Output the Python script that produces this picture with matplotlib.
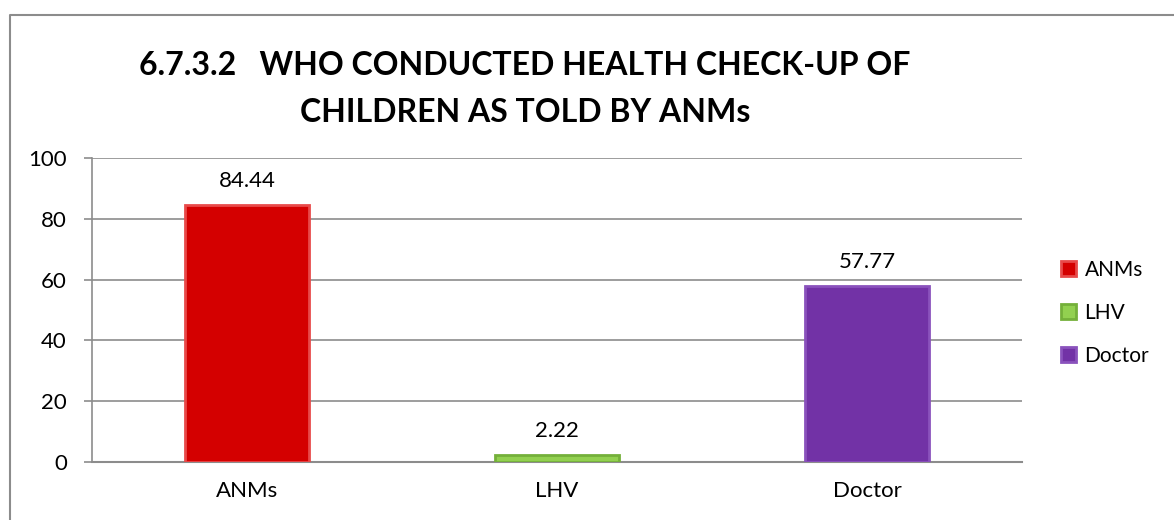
import matplotlib.pyplot as plt
from matplotlib.lines import Line2D

categories = ["ANMs", "LHV", "Doctor"]
values = [84.44, 2.22, 57.77]
colors = ["#d40000", "#92d050", "#7232a6"]
edges = ["#e84a4a", "#74b03a", "#8a52bc"]
yticks = [0, 20, 40, 60, 80, 100]

plt.rcParams["font.family"] = ["Lato", "DejaVu Sans"]

W, H = 1174, 520
fig = plt.figure(figsize=(W / 100, H / 100), dpi=100)
# chart border (left and top edges are visible)
fig.add_artist(Line2D([10 / W, 10 / W, 1.0], [0.0, 1 - 15 / H, 1 - 15 / H],
                      transform=fig.transFigure, color="#8c8c8c", linewidth=1.5))

ax = fig.add_axes([92 / W, 1 - 462 / H, 930 / W, 304 / H])
x = list(range(len(categories)))
bars = ax.bar(x, values, width=0.4, color=colors, edgecolor=edges, linewidth=2,
              zorder=3)
for xi, v in zip(x, values):
    ax.annotate(f"{v:.2f}", (xi, v), xytext=(0, 13.3), textcoords="offset points",
                ha="center", va="baseline", fontsize=16)

ax.set_xlim(-0.5, 2.5)
ax.set_ylim(0, 100)
ax.set_yticks(yticks)
ax.set_xticks(x)
ax.set_xticklabels(categories, fontsize=16)
ax.tick_params(axis="y", labelsize=16, length=6, width=1.2, color="#8c8c8c", pad=12)
ax.tick_params(axis="x", length=0, pad=14)
ax.grid(axis="y", color="#8c8c8c", linewidth=1.2, zorder=0)
for s in ["top", "right"]:
    ax.spines[s].set_visible(False)
ax.spines["left"].set_color("#8c8c8c")
ax.spines["bottom"].set_color("#8c8c8c")
ax.spines["left"].set_linewidth(1.2)
ax.spines["bottom"].set_linewidth(1.5)

ax.legend(handles=bars.patches, labels=categories, loc="center left",
          bbox_to_anchor=(1.031, 0.49), frameon=False, fontsize=15, borderpad=0,
          handlelength=0.72, handleheight=0.72, handletextpad=0.4, labelspacing=1.1)

fig.text(525 / W, 1 - 75 / H, "6.7.3.2   WHO CONDUCTED HEALTH CHECK-UP OF", ha="center",
         va="baseline", fontsize=23, fontweight="bold")
fig.text(525 / W, 1 - 122 / H, "CHILDREN AS TOLD BY ANMs", ha="center",
         va="baseline", fontsize=23, fontweight="bold")

fig.savefig("out.png", dpi=100)
